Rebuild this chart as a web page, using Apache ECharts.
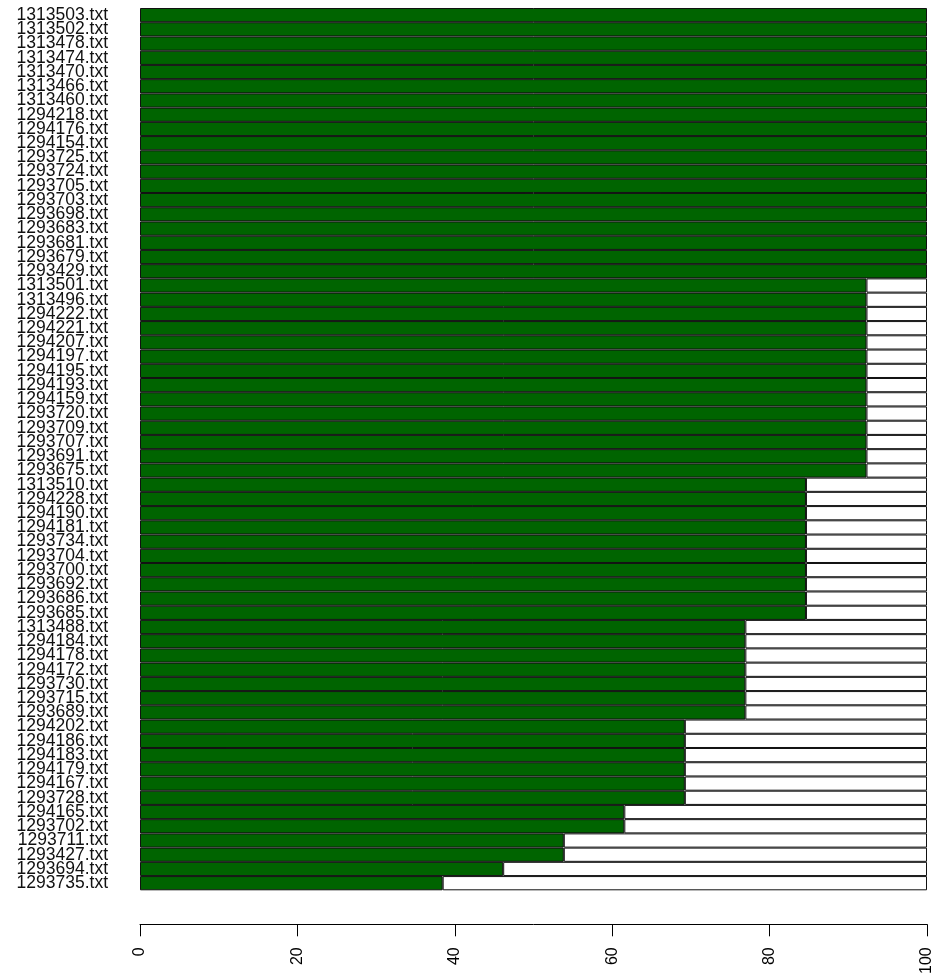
<!DOCTYPE html>
<html>
<head>
<meta charset="utf-8">
<script src="https://cdn.jsdelivr.net/npm/echarts@6/dist/echarts.min.js"></script>
<style>
  html, body { margin: 0; padding: 0; background: #fff; }
  #chart { width: 935px; height: 977px; }
</style>
</head>
<body>
<div id="chart"></div>
<script>
// file names, top to bottom as drawn
const files = [
  '1313503.txt', '1313502.txt', '1313478.txt', '1313474.txt', '1313470.txt',
  '1313466.txt', '1313460.txt', '1294218.txt', '1294176.txt', '1294154.txt',
  '1293725.txt', '1293724.txt', '1293705.txt', '1293703.txt', '1293698.txt',
  '1293683.txt', '1293681.txt', '1293679.txt', '1293429.txt',
  '1313501.txt', '1313496.txt', '1294222.txt', '1294221.txt', '1294207.txt',
  '1294197.txt', '1294195.txt', '1294193.txt', '1294159.txt', '1293720.txt',
  '1293709.txt', '1293707.txt', '1293691.txt', '1293675.txt',
  '1313510.txt', '1294228.txt', '1294190.txt', '1294181.txt', '1293734.txt',
  '1293704.txt', '1293700.txt', '1293692.txt', '1293686.txt', '1293685.txt',
  '1313488.txt', '1294184.txt', '1294178.txt', '1294172.txt', '1293730.txt',
  '1293715.txt', '1293689.txt',
  '1294202.txt', '1294186.txt', '1294183.txt', '1294179.txt', '1294167.txt',
  '1293728.txt',
  '1294165.txt', '1293702.txt',
  '1293711.txt', '1293427.txt',
  '1293694.txt',
  '1293735.txt',
];

// percentage (green part) per file, same order
const percent = [
  100, 100, 100, 100, 100, 100, 100, 100, 100, 100,
  100, 100, 100, 100, 100, 100, 100, 100, 100,
  92.31, 92.31, 92.31, 92.31, 92.31, 92.31, 92.31, 92.31, 92.31, 92.31,
  92.31, 92.31, 92.31, 92.31,
  84.62, 84.62, 84.62, 84.62, 84.62, 84.62, 84.62, 84.62, 84.62, 84.62,
  76.92, 76.92, 76.92, 76.92, 76.92, 76.92, 76.92,
  69.23, 69.23, 69.23, 69.23, 69.23, 69.23,
  61.54, 61.54,
  53.85, 53.85,
  46.15,
  38.46,
];

const xTicks = [0, 20, 40, 60, 80, 100];

// white remainder up to 100
const rest = percent.map(v => (v >= 100 ? '-' : +(100 - v).toFixed(2)));

const myChart = echarts.init(document.getElementById('chart'));

const option = {
  animation: false,
  backgroundColor: '#fff',
  textStyle: { fontFamily: 'Liberation Sans, Arial, sans-serif' },
  grid: {
    left: 140,
    right: 4,
    top: 8,
    bottom: 86,
    containLabel: false,
  },
  xAxis: {
    type: 'value',
    min: xTicks[0],
    max: xTicks[xTicks.length - 1],
    interval: 20,
    offset: 34,
    splitLine: { show: false },
    axisLine: { show: true, lineStyle: { color: '#000', width: 1 } },
    axisTick: { show: true, inside: false, length: 12, lineStyle: { color: '#000' } },
    axisLabel: {
      rotate: 90,
      margin: 23,
      fontSize: 16,
      color: '#000',
      showMinLabel: true,
      showMaxLabel: true,
    },
  },
  yAxis: {
    type: 'category',
    data: files,
    inverse: true,
    axisLine: { show: false },
    axisTick: { show: false },
    axisLabel: {
      interval: 0,
      margin: 32,
      fontSize: 17.5,
      color: '#111',
    },
  },
  series: [
    {
      type: 'bar',
      stack: 'total',
      data: percent,
      barWidth: '100%',
      itemStyle: { color: '#006400', borderColor: '#111', borderWidth: 1 },
      silent: true,
    },
    {
      type: 'bar',
      stack: 'total',
      data: rest,
      barWidth: '100%',
      itemStyle: { color: '#fff', borderColor: '#111', borderWidth: 1 },
      silent: true,
    },
  ],
};

myChart.setOption(option);
</script>
</body>
</html>
